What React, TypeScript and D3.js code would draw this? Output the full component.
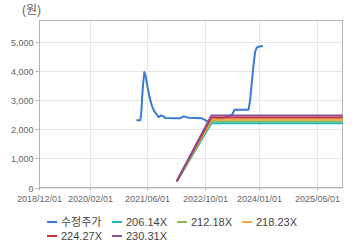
import React from "react";
import * as d3 from "d3";

const W = 360;
const H = 248;

// 수정주가 (adjusted price)
const priceDates = [
  "2021-02-26", "2021-03-31", "2021-04-09", "2021-04-15", "2021-04-23", "2021-05-04",
  "2021-05-18", "2021-06-01", "2021-06-18", "2021-07-08", "2021-07-27", "2021-08-19",
  "2021-09-02", "2021-09-22", "2021-10-14", "2021-10-28", "2022-01-21", "2022-03-04",
  "2022-04-01", "2022-05-13", "2022-09-03", "2022-10-23", "2022-11-20", "2023-01-15",
  "2023-03-15", "2023-05-14", "2023-06-04", "2023-09-30", "2023-10-14", "2023-10-28",
  "2023-11-11", "2023-11-25", "2023-12-09", "2023-12-30", "2024-01-30",
];
const priceValues = [
  2300, 2300, 2610, 3070, 3530, 3960,
  3760, 3410, 3070, 2780, 2610, 2490,
  2410, 2470, 2430, 2380, 2375, 2375,
  2435, 2390, 2370, 2260, 2300, 2350,
  2400, 2490, 2665, 2665, 3000, 3600,
  4200, 4650, 4800, 4830, 4850,
];

// PER band lines
const bandDates = ["2022-02-01", "2022-11-20", "2025-12-01"];
const band206 = [196, 2204, 2204];
const band212 = [202, 2268, 2268];
const band218 = [207, 2333, 2333];
const band224 = [213, 2397, 2397];
const band230 = [219, 2462, 2462];

const seriesNames = ["수정주가", "206.14X", "212.18X", "218.23X", "224.27X", "230.31X"];
const xTickDates = ["2018-12-01", "2020-02-01", "2021-06-01", "2022-10-01", "2024-01-01", "2025-05-01"];
const xTickLabels = ["2018/12/01", "2020/02/01", "2021/06/01", "2022/10/01", "2024/01/01", "2025/05/01"];
const yTicks = [0, 1000, 2000, 3000, 4000, 5000];
const xDomain = ["2018-12-01", "2025-12-01"];
const yMax = 5720;
const unitLabel = "(원)";

const COLORS = ["#3a7bd5", "#1fb5bd", "#8cbc4f", "#f0a83a", "#c8333a", "#8f4d93"];
const FONT = "'Liberation Sans', Arial, 'Noto Sans CJK KR', sans-serif";

const parse = d3.utcParse("%Y-%m-%d");

export default function App() {
  const left = 39.5, right = 342.5, top = 20.5, bottom = 187.5;
  const x = d3.scaleUtc().domain(xDomain.map((d) => parse(d) as Date)).range([left, right]);
  const y = d3.scaleLinear().domain([0, yMax]).range([bottom, top]);

  const line = d3
    .line<[Date, number]>()
    .x((d) => x(d[0]))
    .y((d) => y(d[1]));

  const priceData: [Date, number][] = priceDates.map((d, i) => [parse(d) as Date, priceValues[i]]);
  const bands = [band206, band212, band218, band224, band230].map((vals) =>
    bandDates.map((d, i) => [parse(d) as Date, vals[i]] as [Date, number])
  );

  const legendPos = [
    [47, 222], [112, 222], [177, 222], [242, 222],
    [47, 236], [112, 236],
  ];

  return (
    <svg
      width={W}
      height={H}
      style={{ position: "absolute", left: 0, top: 0, background: "#fff" }}
      fontFamily={FONT}
    >
      <rect x={0} y={0} width={W} height={H} fill="#fff" />
      <text x={22} y={14} fontSize={12} fill="#666">{unitLabel}</text>

      {/* grid */}
      {yTicks.map((t) => (
        <line key={"gy" + t} x1={left} x2={right} y1={Math.round(y(t)) + 0.5} y2={Math.round(y(t)) + 0.5} stroke="#e6e6e6" />
      ))}
      {xTickDates.map((d) => {
        const xx = Math.round(x(parse(d) as Date) - 0.5) + 0.5;
        return <line key={"gx" + d} x1={xx} x2={xx} y1={top} y2={bottom} stroke="#e6e6e6" />;
      })}

      {/* border */}
      <rect x={left} y={top} width={right - left} height={bottom - top} fill="none" stroke="#b5b5b5" />

      {/* ticks */}
      {yTicks.map((t) => {
        const yy = Math.round(y(t)) + 0.5;
        return (
          <g key={"ty" + t}>
            <line x1={left - 4} x2={left} y1={yy} y2={yy} stroke="#b5b5b5" />
            <text x={33.5} y={yy} dy="0.35em" textAnchor="end" fontSize={9} fill="#666">
              {d3.format(",")(t)}
            </text>
          </g>
        );
      })}
      {xTickDates.map((d, i) => {
        const xx = Math.round(x(parse(d) as Date) - 0.5) + 0.5;
        return (
          <g key={"tx" + d}>
            <line x1={xx} x2={xx} y1={bottom} y2={bottom + 3} stroke="#b5b5b5" />
            <text x={xx} y={202} textAnchor="middle" fontSize={9} fill="#666">
              {xTickLabels[i]}
            </text>
          </g>
        );
      })}

      {/* series */}
      <path d={line(priceData) || ""} fill="none" stroke={COLORS[0]} strokeWidth={2} strokeLinejoin="round" />
      {bands.map((b, i) => (
        <path key={"b" + i} d={line(b) || ""} fill="none" stroke={COLORS[i + 1]} strokeWidth={2} strokeLinejoin="round" />
      ))}

      {/* legend */}
      {seriesNames.map((n, i) => (
        <g key={"lg" + n}>
          <line x1={legendPos[i][0]} x2={legendPos[i][0] + 10} y1={legendPos[i][1]} y2={legendPos[i][1]} stroke={COLORS[i]} strokeWidth={2} />
          <text x={legendPos[i][0] + 14} y={legendPos[i][1]} dy="0.35em" fontSize={11} fill="#444">
            {n}
          </text>
        </g>
      ))}
    </svg>
  );
}
